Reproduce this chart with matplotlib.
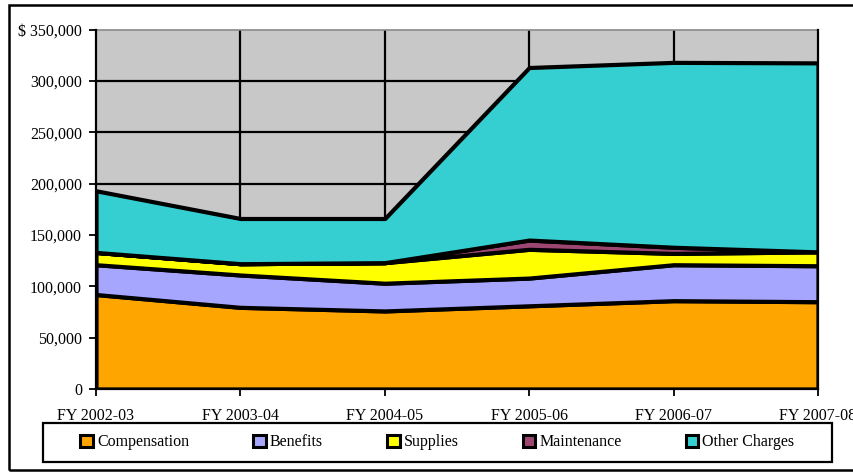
import matplotlib
matplotlib.use("Agg")
import matplotlib.pyplot as plt
from matplotlib.patches import Patch, Rectangle

plt.rcParams["font.family"] = ["Liberation Serif", "DejaVu Serif"]

# Budget by fiscal year (dollars)
years = ["FY 2002-03", "FY 2003-04", "FY 2004-05", "FY 2005-06", "FY 2006-07", "FY 2007-08"]
compensation = [92000, 79500, 76000, 81000, 86000, 85000]
benefits = [29000, 31500, 27000, 27000, 35000, 35000]
supplies = [12000, 11000, 20000, 28000, 11000, 13500]
maintenance = [0, 0, 0, 9000, 6000, 0]
other_charges = [60000, 44000, 43000, 168000, 180000, 184000]

series_names = ["Compensation", "Benefits", "Supplies", "Maintenance", "Other Charges"]
series_colors = ["#FFA500", "#A6A6FF", "#FFFF00", "#9E4672", "#36CFD1"]
y_ticks = [0, 50000, 100000, 150000, 200000, 250000, 300000, 350000]

W, H, DPI = 854, 472, 100
fig = plt.figure(figsize=(W / DPI, H / DPI), dpi=DPI)
fs = 11.5

left, right, top, bottom = 96, 818, 29.5, 389
ax = fig.add_axes([left / W, 1 - bottom / H, (right - left) / W, (bottom - top) / H])
ax.set_facecolor("#C8C8C8")

x = list(range(len(years)))
ax.stackplot(x, compensation, benefits, supplies, maintenance, other_charges,
             colors=series_colors, edgecolor="black", linewidth=3.0, zorder=3)

# gridlines behind the areas
for v in y_ticks[1:-1]:
    ax.axhline(v, color="black", lw=1.6, zorder=1)
for xi in x[1:-1]:
    ax.axvline(xi, color="black", lw=1.6, zorder=1)

ax.set_xlim(0, len(years) - 1)
ax.set_ylim(0, 350000)
ax.set_xticks(x)
ax.set_xticklabels(years, fontsize=fs)
ax.set_yticks(y_ticks)
ylabels = [f"{v:,}" for v in y_ticks]
ylabels[-1] = "$ " + ylabels[-1]
ax.set_yticklabels(ylabels, fontsize=fs)
ax.tick_params(axis="both", direction="out", length=5, width=1.3, colors="black")
ax.tick_params(axis="x", pad=9)
ax.tick_params(axis="y", pad=5)

for side in ["left", "bottom", "right"]:
    ax.spines[side].set_color("black")
    ax.spines[side].set_linewidth(1.6)
    ax.spines[side].set_zorder(4)
ax.spines["top"].set_color("#8A8A8A")
ax.spines["top"].set_linewidth(1.2)

# legend frame and entries
fig.patches.append(Rectangle((43 / W, 1 - 462 / H), (832 - 43) / W, (462 - 423) / H,
                             transform=fig.transFigure, fill=False,
                             edgecolor="black", lw=1.6))
handles = [Patch(facecolor=c, edgecolor="black", lw=2.2) for c in series_colors]
fig.legend(handles, series_names, loc="center",
           bbox_to_anchor=(437.5 / W, 1 - 442.5 / H), ncol=5, frameon=False,
           fontsize=fs, handlelength=0.8, handleheight=0.8, handletextpad=0.25,
           columnspacing=4.0, borderpad=0.0)

# outer border
fig.patches.append(Rectangle((9 / W, 1 - 470 / H), 1.0, (470 - 5) / H,
                             transform=fig.transFigure, fill=False,
                             edgecolor="black", lw=1.8))

fig.savefig("out.png", dpi=DPI)
